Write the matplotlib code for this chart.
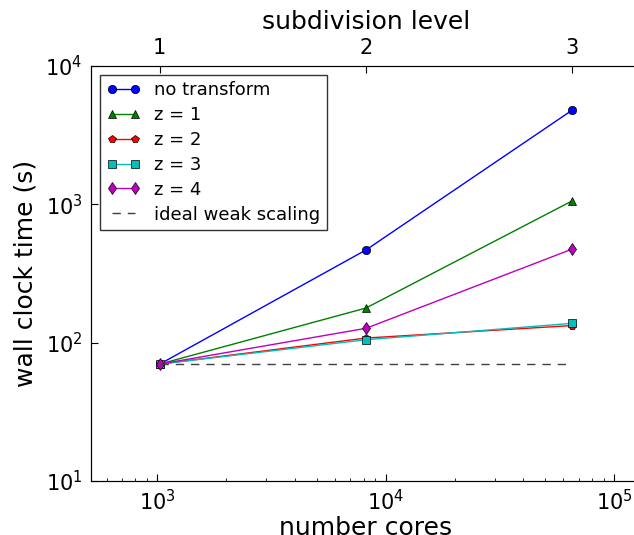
"""Weak scaling of wall clock time vs number of cores
"""
import matplotlib
matplotlib.use("Agg")
import matplotlib.pyplot as plt

cores = [1024, 8192, 65536]
levels = ["1", "2", "3"]

no_transform = [70, 468, 4800]
z1 = [70, 178, 1060]
z2 = [70, 108, 133]
z3 = [70, 105, 138]
z4 = [70, 127, 475]
ideal = [70, 70, 70]

series = [
    ("no transform", no_transform, "b", "o"),
    ("z = 1", z1, (0, 0.5, 0), "^"),
    ("z = 2", z2, "r", "p"),
    ("z = 3", z3, "c", "s"),
    ("z = 4", z4, "m", "d"),
]


def main() -> None:
    plt.rcParams["font.family"] = "DejaVu Sans"
    plt.rcParams["xtick.direction"] = "in"
    plt.rcParams["ytick.direction"] = "in"
    plt.rcParams["mathtext.default"] = "regular"

    fig = plt.figure(figsize=(6.34, 5.35), dpi=100)
    ax = fig.add_axes([91 / 634, 54 / 535, 550 / 634, 415 / 535])

    for label, vals, color, marker in series:
        ax.plot(cores, vals, color=color, marker=marker, lw=1, ms=6,
                mec="k", mew=0.5, label=label)
    ax.plot(cores, ideal, "--", color="0.25", lw=1, dashes=(6, 5),
            label="ideal weak scaling")

    ax.set_xscale("log")
    ax.set_yscale("log")
    ax.set_xlim(512, 131072)
    ax.set_ylim(10, 1e4)
    ax.tick_params(which="both", top=False, right=True, labelsize=15)
    ax.tick_params(which="major", length=5, pad=6)
    ax.tick_params(which="minor", length=2.5)
    ax.set_xlabel("number cores", fontsize=18, labelpad=1)
    ax.set_ylabel("wall clock time (s)", fontsize=18, labelpad=6)
    for sp in ax.spines.values():
        sp.set_color("0.2")

    top = ax.twiny()
    top.set_xscale("log")
    top.set_xlim(ax.get_xlim())
    top.set_xticks(cores)
    top.set_xticklabels(levels)
    top.minorticks_off()
    top.tick_params(direction="in", length=5, labelsize=15, pad=6)
    top.set_xlabel("subdivision level", fontsize=18, labelpad=6)

    leg = ax.legend(loc="upper left", fontsize=13, numpoints=2,
                    fancybox=False, framealpha=1, handlelength=1.9,
                    borderaxespad=0.5, borderpad=0.35, labelspacing=0.38,
                    handletextpad=0.75)
    leg.get_frame().set_edgecolor("0.2")

    fig.savefig("out.png", dpi=100)
    plt.close(fig)


if __name__ == "__main__":
    main()
